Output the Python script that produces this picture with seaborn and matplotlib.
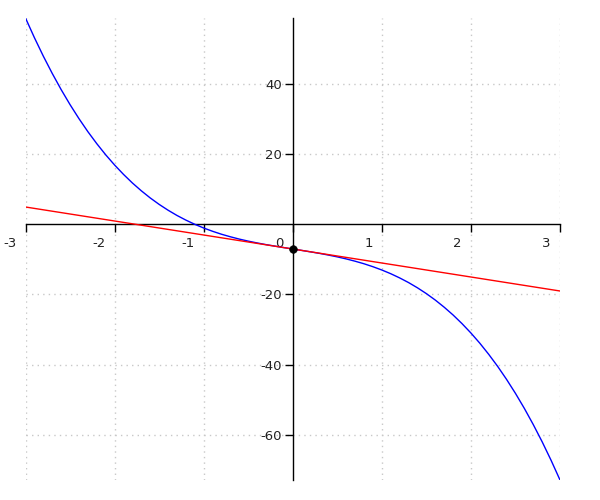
import matplotlib
matplotlib.use("Agg")
import matplotlib.pyplot as plt
import matplotlib.transforms as mtransforms
import seaborn as sns
import pandas as pd

# Curve samples
curve_x = [-3.0, -2.9, -2.8, -2.7, -2.6, -2.5, -2.4, -2.3, -2.2, -2.1, -2.0,
           -1.9, -1.8, -1.7, -1.6, -1.5, -1.4, -1.3, -1.2, -1.1, -1.0,
           -0.9, -0.8, -0.7, -0.6, -0.5, -0.4, -0.3, -0.2, -0.1, 0.0,
           0.1, 0.2, 0.3, 0.4, 0.5, 0.6, 0.7, 0.8, 0.9, 1.0,
           1.1, 1.2, 1.3, 1.4, 1.5, 1.6, 1.7, 1.8, 1.9, 2.0,
           2.1, 2.2, 2.3, 2.4, 2.5, 2.6, 2.7, 2.8, 2.9, 3.0]
curve_y = [59.0, 53.38, 48.1, 43.17, 38.55, 34.25, 30.25, 26.53, 23.1, 19.92, 17.0,
           14.32, 11.86, 9.63, 7.59, 5.75, 4.09, 2.59, 1.26, 0.06, -1.0,
           -1.94, -2.78, -3.51, -4.17, -4.75, -5.27, -5.75, -6.18, -6.6, -7.0,
           -7.4, -7.82, -8.25, -8.73, -9.25, -9.83, -10.49, -11.22, -12.06, -13.0,
           -14.06, -15.26, -16.59, -18.09, -19.75, -21.59, -23.63, -25.86, -28.32, -31.0,
           -33.92, -37.1, -40.53, -44.25, -48.25, -52.55, -57.17, -62.1, -67.38, -73.0]

# Tangent line endpoints
tangent_x = [-3.0, 3.0]
tangent_y = [5.0, -19.0]

# Tangent point
point_x = [0.0]
point_y = [-7.0]

xticks = [-3, -2, -1, 0, 1, 2, 3]
xticklabels = ["-3", "-2", "-1", "0", "1", "2", "3"]
yticks = [-60, -40, -20, 20, 40]
yticklabels = ["-60", "-40", "-20", "20", "40"]

sns.set_style("white")
plt.rcParams["font.family"] = ["DejaVu Sans"]

fig = plt.figure(figsize=(6, 5), dpi=100)
ax = fig.add_axes([25.5 / 600, 20 / 500, 534.5 / 600, 462 / 500])

df_curve = pd.DataFrame({"x": curve_x, "y": curve_y})
df_tan = pd.DataFrame({"x": tangent_x, "y": tangent_y})

# grid
for gx in [-3, -2, -1, 1, 2, 3]:
    ax.axvline(gx, color="#c8c8c8", lw=1, ls=(0, (1, 3)), zorder=0)
for gy in yticks:
    ax.axhline(gy, color="#c8c8c8", lw=1, ls=(0, (1, 3)), zorder=0)

sns.lineplot(data=df_curve, x="x", y="y", sort=False, estimator=None,
             color="#0000ff", lw=1, ax=ax, zorder=3)
sns.lineplot(data=df_tan, x="x", y="y", sort=False, estimator=None,
             color="#ff0000", lw=1, ax=ax, zorder=4)
sns.scatterplot(x=point_x, y=point_y, color="black", s=30, ax=ax, zorder=5,
                edgecolor="black", linewidth=0.5)

ax.set_xlim(-3.0, 3.0)
ax.set_ylim(-73, 59)

ax.spines["left"].set_position(("data", 0))
ax.spines["bottom"].set_position(("data", 0))
ax.spines["top"].set_visible(False)
ax.spines["right"].set_visible(False)
for s in ["left", "bottom"]:
    ax.spines[s].set_color("black")
    ax.spines[s].set_linewidth(1)

ax.set_xticks(xticks)
ax.set_xticklabels(xticklabels)
ax.set_yticks(yticks)
ax.set_yticklabels(yticklabels)
ax.tick_params(axis="x", direction="out", length=6, width=1, pad=3,
               labelsize=9.5, colors="black", labelcolor="#222222", bottom=True)
ax.tick_params(axis="y", direction="out", length=6, width=1, pad=1.5,
               labelsize=9.5, colors="black", labelcolor="#222222", left=True)

offset = mtransforms.ScaledTranslation(-6.5 / 72, 0, fig.dpi_scale_trans)
for lab in ax.get_xticklabels():
    lab.set_horizontalalignment("right")
    lab.set_transform(lab.get_transform() + offset)

ax.set_xlabel("")
ax.set_ylabel("")
ax.patch.set_alpha(0)

fig.savefig("out.png", dpi=100)
